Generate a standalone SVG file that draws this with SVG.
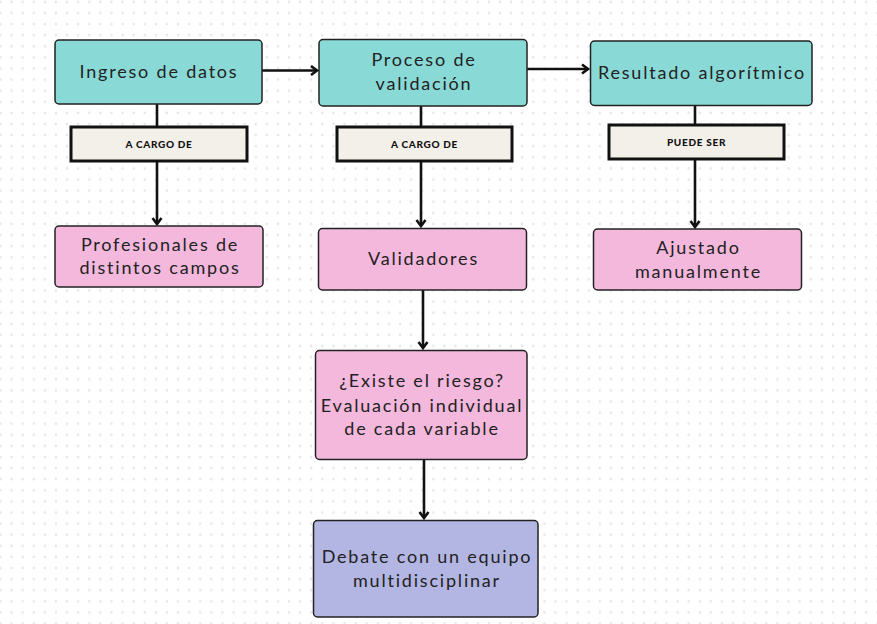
<svg xmlns="http://www.w3.org/2000/svg" width="877" height="624" viewBox="0 0 877 624">
<defs>
<pattern id="dots" patternUnits="userSpaceOnUse" x="6" y="7.5" width="11.1" height="11.1">
<circle cx="5.55" cy="5.55" r="1.3" fill="#e5e5ec"/>
</pattern>
<marker id="arr" markerWidth="12" markerHeight="12" refX="9" refY="6" orient="auto" markerUnits="userSpaceOnUse">
<path d="M3,1.5 L9,6 L3,10.5" fill="none" stroke="#111" stroke-width="2.6" stroke-linejoin="miter"/>
</marker>
<style>
.teal{fill:#89d9d6;stroke:#222;stroke-width:1.5}
.pink{fill:#f3b8dc;stroke:#222;stroke-width:1.5}
.purple{fill:#b3b6e3;stroke:#222;stroke-width:1.5}
.lab{fill:#f3efe9;stroke:#111;stroke-width:3}
.t{font-family:Lato,"Noto Sans",sans-serif;font-size:18px;letter-spacing:1.8px;fill:#222;text-anchor:middle}
.l{font-family:Lato,"Noto Sans",sans-serif;font-size:10px;font-weight:900;letter-spacing:0.7px;fill:#111;text-anchor:middle}
.c{fill:none;stroke:#111;stroke-width:2.6}
</style>
</defs>
<rect width="877" height="624" fill="#ffffff"/>
<rect width="877" height="624" fill="url(#dots)"/>
<g id="connectors">
<line class="c" x1="262" y1="70.5" x2="317" y2="70.5" marker-end="url(#arr)"/>
<line class="c" x1="527" y1="69" x2="588" y2="69" marker-end="url(#arr)"/>
<line class="c" x1="157" y1="104" x2="157" y2="127"/>
<line class="c" x1="157" y1="161" x2="157" y2="224" marker-end="url(#arr)"/>
<line class="c" x1="421" y1="106" x2="421" y2="127"/>
<line class="c" x1="421" y1="161" x2="421" y2="226" marker-end="url(#arr)"/>
<line class="c" x1="695" y1="105" x2="695" y2="125"/>
<line class="c" x1="695" y1="159" x2="695" y2="227" marker-end="url(#arr)"/>
<line class="c" x1="423" y1="290" x2="423" y2="348" marker-end="url(#arr)"/>
<line class="c" x1="424" y1="459" x2="424" y2="518" marker-end="url(#arr)"/>
</g>
<g id="ingreso">
<rect class="teal" x="55" y="40" width="207" height="64" rx="4"/>
<text class="t" x="159" y="78">Ingreso de datos</text>
</g>
<g id="proceso">
<rect class="teal" x="319" y="39.5" width="208" height="66.5" rx="4"/>
<text class="t" x="424" y="66">Proceso de</text>
<text class="t" x="424" y="90">validación</text>
</g>
<g id="resultado">
<rect class="teal" x="590.5" y="41" width="221.5" height="64.5" rx="4"/>
<text class="t" x="702" y="79">Resultado algorítmico</text>
</g>
<g id="label1">
<rect class="lab" x="71" y="127" width="176" height="34"/>
<text class="l" x="159" y="147.5">A CARGO DE</text>
</g>
<g id="label2">
<rect class="lab" x="337" y="127" width="175" height="34"/>
<text class="l" x="424.5" y="147.5">A CARGO DE</text>
</g>
<g id="label3">
<rect class="lab" x="609" y="125" width="175" height="34"/>
<text class="l" x="696.5" y="145.5">PUEDE SER</text>
</g>
<g id="profesionales">
<rect class="pink" x="55" y="226" width="208" height="61" rx="4"/>
<text class="t" x="160" y="250.5">Profesionales de</text>
<text class="t" x="160" y="274">distintos campos</text>
</g>
<g id="validadores">
<rect class="pink" x="318.5" y="228.5" width="208" height="61.5" rx="4"/>
<text class="t" x="423.5" y="265">Validadores</text>
</g>
<g id="ajustado">
<rect class="pink" x="593.5" y="229" width="208" height="61" rx="4"/>
<text class="t" x="698.5" y="253.5">Ajustado</text>
<text class="t" x="698.5" y="277.5">manualmente</text>
</g>
<g id="existe">
<rect class="pink" x="315.5" y="350.5" width="211.5" height="109" rx="4"/>
<text class="t" x="422" y="387">¿Existe el riesgo?</text>
<text class="t" x="422" y="411.5">Evaluación individual</text>
<text class="t" x="422" y="435">de cada variable</text>
</g>
<g id="debate">
<rect class="purple" x="313.5" y="520.5" width="224.5" height="96.5" rx="4"/>
<text class="t" x="427" y="563">Debate con un equipo</text>
<text class="t" x="427" y="586.5">multidisciplinar</text>
</g>
</svg>
